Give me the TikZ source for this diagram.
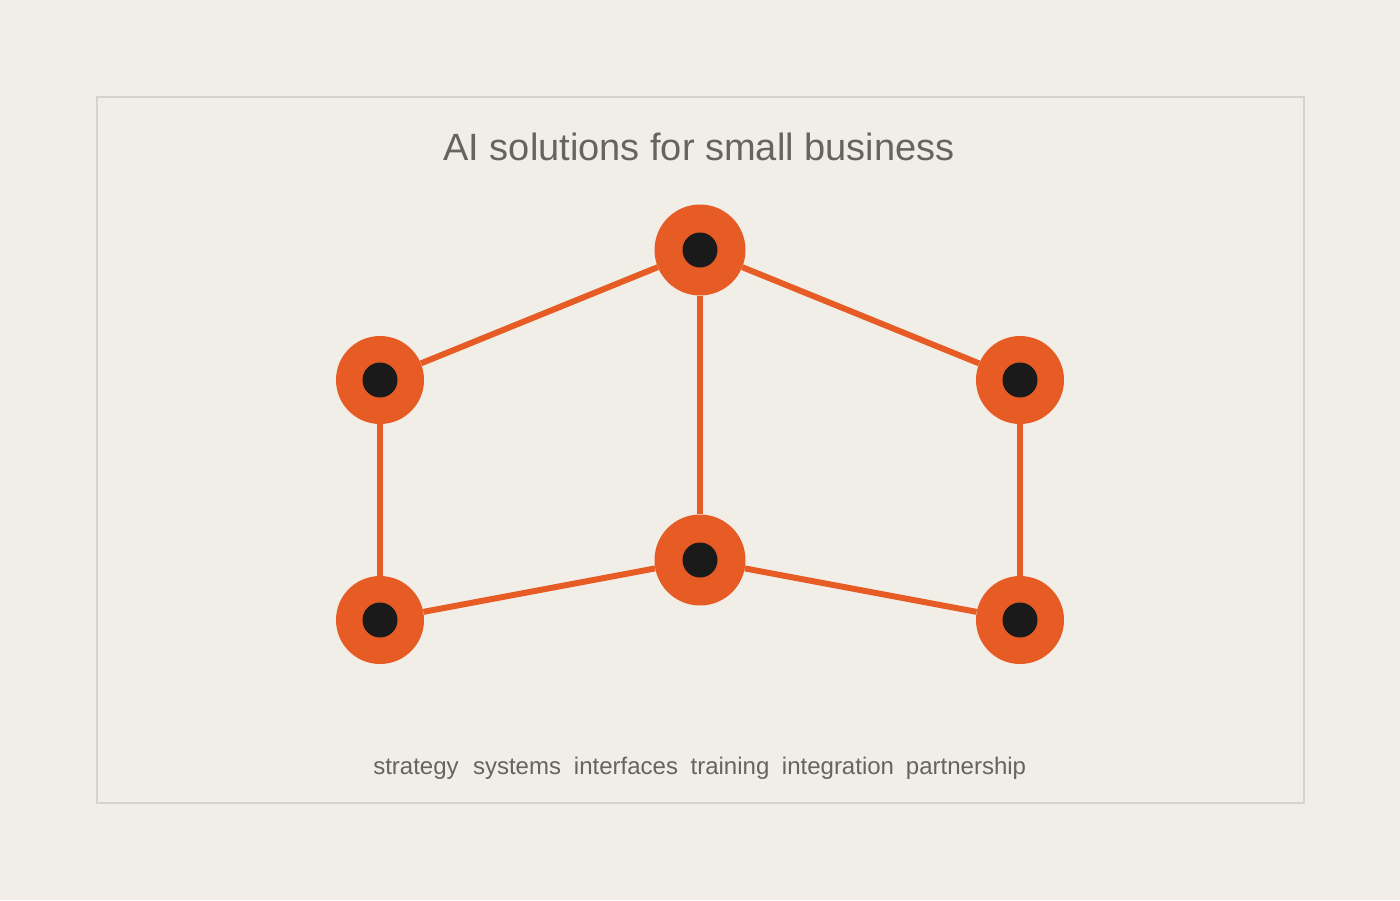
\documentclass[tikz,border=0pt]{standalone}
\usepackage{fontspec}
\setmainfont{Liberation Sans}
\definecolor{bg}{HTML}{F1EEE8}
\definecolor{frame}{HTML}{D6D3CE}
\definecolor{org}{HTML}{E65C24}
\definecolor{dot}{HTML}{1B1A1A}
\definecolor{txt}{HTML}{666461}
\tikzset{
  hub/.style={circle,fill=org,minimum size=#1,inner sep=0pt},
  core/.style={circle,fill=dot,minimum size=35pt,inner sep=0pt},
  link/.style={draw=org,line width=6pt},
  lbl/.style={text=txt,font=\fontsize{24pt}{28pt}\selectfont,inner sep=0pt,anchor=base}
}
\begin{document}
\begin{tikzpicture}[x=1pt,y=-1pt]
\fill[bg] (0,0) rectangle (1400,900);
\useasboundingbox (0,0) rectangle (1400,900);
\draw[frame,line width=2pt] (97,97) rectangle (1304,803);
\node[text=txt,font=\fontsize{38pt}{44pt}\selectfont,inner sep=0pt,anchor=base] (title) at (699,160) {AI solutions for small business};
\node[hub=91pt] (t) at (700,250) {};
\node[hub=88pt] (l) at (380,380) {};
\node[hub=88pt] (r) at (1020,380) {};
\node[hub=88pt] (bl) at (380,620) {};
\node[hub=91pt] (m) at (700,560) {};
\node[hub=88pt] (br) at (1020,620) {};
\begin{scope}[on background layer/.style={}]
\end{scope}
\draw[link] (t) -- (l);
\draw[link] (t) -- (r);
\draw[link] (t) -- (m);
\draw[link] (l) -- (bl);
\draw[link] (r) -- (br);
\draw[link] (bl) -- (m);
\draw[link] (m) -- (br);
\foreach \n in {t,l,r,bl,m,br}{\node[core] (c\n) at (\n) {};}
\node[lbl] (s1) at (416,774) {strategy};
\node[lbl] (s2) at (517,774) {systems};
\node[lbl] (s3) at (626,774) {interfaces};
\node[lbl] (s4) at (730,774) {training};
\node[lbl] (s5) at (838,774) {integration};
\node[lbl] (s6) at (966,774) {partnership};
\end{tikzpicture}
\end{document}
